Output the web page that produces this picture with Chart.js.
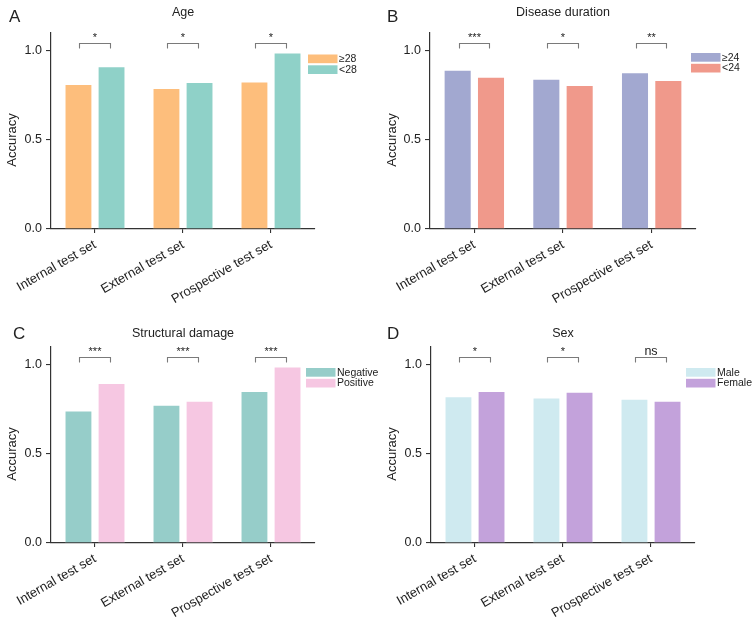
<!DOCTYPE html>
<html>
<head>
<meta charset="utf-8">
<script src="https://cdn.jsdelivr.net/npm/chart.js@4.4.1/dist/chart.umd.min.js"></script>
<style>
  body { margin: 0; background: #fff; }
  #wrap { position: relative; width: 752px; height: 625px; overflow: hidden; }
  #wrap canvas { position: absolute; }
</style>
</head>
<body>
<div id="wrap">
  <canvas id="chartA" width="376" height="312" style="left:0;top:0"></canvas>
  <canvas id="chartB" width="376" height="312" style="left:376px;top:0"></canvas>
  <canvas id="chartC" width="392" height="313" style="left:0;top:312px"></canvas>
  <canvas id="chartD" width="376" height="313" style="left:376px;top:312px"></canvas>
</div>
<script>
// --- DATA ---
const testSets = ['Internal test set', 'External test set', 'Prospective test set'];
const yTicks = [0, 0.5, 1.0];

const ageGroups = ['≥28', '<28'];
const ageOlder = [0.812, 0.790, 0.827];
const ageYounger = [0.912, 0.824, 0.989];
const ageSig = ['*', '*', '*'];

const durationGroups = ['≥24', '<24'];
const durationLong = [0.893, 0.842, 0.878];
const durationShort = [0.854, 0.807, 0.835];
const durationSig = ['***', '*', '**'];

const damageGroups = ['Negative', 'Positive'];
const damageNegative = [0.743, 0.775, 0.852];
const damagePositive = [0.897, 0.797, 0.989];
const damageSig = ['***', '***', '***'];

const sexGroups = ['Male', 'Female'];
const sexMale = [0.822, 0.816, 0.809];
const sexFemale = [0.852, 0.848, 0.797];
const sexSig = ['*', '*', 'ns'];

// --- STYLE ---
const FONT = '"Liberation Sans", Arial, Helvetica, sans-serif';
const AXIS_COLOR = '#333';
const TEXT_COLOR = '#222';
const BRACKET_LEVEL = 1.042;

// layout of each panel inside its own canvas
const panels = [
    { id: 'chartA', letter: 'A', title: 'Age', groups: ageGroups, series: [ageOlder, ageYounger],
      colors: ['#FDBE7C', '#8FD1C8'], sig: ageSig,
      area: { left: 51, right: 315, top: 33, bottom: 229 },
      letterXY: [9, 22], titleY: 16, yTitleX: 12, legendXY: [308, 54.5] },
    { id: 'chartB', letter: 'B', title: 'Disease duration', groups: durationGroups, series: [durationLong, durationShort],
      colors: ['#A2A8D0', '#F0998B'], sig: durationSig,
      area: { left: 54, right: 320, top: 33, bottom: 229 },
      letterXY: [11, 22], titleY: 16, yTitleX: 16, legendXY: [315, 53] },
    { id: 'chartC', letter: 'C', title: 'Structural damage', groups: damageGroups, series: [damageNegative, damagePositive],
      colors: ['#96CDC9', '#F6C7E2'], sig: damageSig,
      area: { left: 51, right: 315, top: 35, bottom: 231 },
      letterXY: [13, 27], titleY: 25, yTitleX: 12, legendXY: [306, 56] },
    { id: 'chartD', letter: 'D', title: 'Sex', groups: sexGroups, series: [sexMale, sexFemale],
      colors: ['#CFEAF0', '#C3A2DB'], sig: sexSig,
      area: { left: 55, right: 319, top: 35, bottom: 231 },
      letterXY: [11, 27], titleY: 25, yTitleX: 16, legendXY: [310, 56] }
];

// --- PLUGIN: letter, title, y title, legend, significance brackets ---
const decorPlugin = {
    id: 'decor',
    afterDatasetsDraw(chart, args, opts) {
        const { ctx, chartArea } = chart;
        const y = chart.scales.y;
        ctx.save();
        ctx.fillStyle = TEXT_COLOR;

        // panel letter
        ctx.font = `17px ${FONT}`;
        ctx.textAlign = 'left';
        ctx.textBaseline = 'alphabetic';
        ctx.fillText(opts.letter, opts.letterXY[0], opts.letterXY[1]);

        // panel title
        ctx.font = `12.5px ${FONT}`;
        ctx.textAlign = 'center';
        ctx.fillText(opts.title, (chartArea.left + chartArea.right) / 2, opts.titleY);

        // y axis title, centred on the 0..1 range
        ctx.save();
        ctx.translate(opts.yTitleX, y.getPixelForValue(0.5));
        ctx.rotate(-Math.PI / 2);
        ctx.font = `13px ${FONT}`;
        ctx.textBaseline = 'middle';
        ctx.fillText('Accuracy', 0, 0);
        ctx.restore();

        // legend
        ctx.font = `10.5px ${FONT}`;
        ctx.textAlign = 'left';
        ctx.textBaseline = 'middle';
        chart.data.datasets.forEach((ds, i) => {
            const bx = opts.legendXY[0];
            const by = opts.legendXY[1] + i * 10.8;
            ctx.fillStyle = ds.backgroundColor;
            ctx.fillRect(bx, by, 29.5, 8.7);
            ctx.fillStyle = TEXT_COLOR;
            ctx.fillText(ds.label, bx + 31, by + 4.8);
        });

        // significance brackets
        const m0 = chart.getDatasetMeta(0);
        const m1 = chart.getDatasetMeta(1);
        const yb = Math.round(y.getPixelForValue(BRACKET_LEVEL)) + 0.5;
        ctx.strokeStyle = '#7a7a7a';
        ctx.lineWidth = 1.1;
        opts.sig.forEach((s, i) => {
            const x0 = Math.round(m0.data[i].x + 1) + 0.5;
            const x1 = Math.round(m1.data[i].x - 2) + 0.5;
            ctx.beginPath();
            ctx.moveTo(x0, yb + 5);
            ctx.lineTo(x0, yb);
            ctx.lineTo(x1, yb);
            ctx.lineTo(x1, yb + 5);
            ctx.stroke();
            ctx.fillStyle = TEXT_COLOR;
            ctx.textAlign = 'center';
            ctx.textBaseline = 'alphabetic';
            ctx.font = s === 'ns' ? `12.5px ${FONT}` : `11px ${FONT}`;
            ctx.fillText(s, (x0 + x1) / 2, yb - 3);
        });
        ctx.restore();
    }
};

// --- RENDER ---
const renderPanel = (p) => {
    const canvas = document.getElementById(p.id);
    const W = canvas.width;
    const H = canvas.height;
    new Chart(canvas.getContext('2d'), {
        type: 'bar',
        data: {
            labels: testSets,
            datasets: p.series.map((values, i) => ({
                label: p.groups[i],
                data: values,
                backgroundColor: p.colors[i],
                borderColor: 'rgba(255,255,255,0.55)',
                borderWidth: 0.8,
                categoryPercentage: 0.752,
                barPercentage: 0.83
            }))
        },
        options: {
            responsive: false,
            animation: false,
            events: [],
            layout: { padding: { left: 0, top: p.area.top, right: W - p.area.right, bottom: 0 } },
            scales: {
                x: {
                    afterFit: scale => { scale.height = H - p.area.bottom; },
                    grid: { offset: false, drawOnChartArea: false, drawTicks: true, tickLength: 4, color: AXIS_COLOR, lineWidth: 1.1 },
                    border: { display: true, color: AXIS_COLOR, width: 1.2 },
                    ticks: { color: TEXT_COLOR, font: { family: FONT, size: 13 }, minRotation: 30, maxRotation: 30, padding: 4 }
                },
                y: {
                    min: 0,
                    max: 1.1,
                    afterFit: scale => { scale.width = p.area.left; },
                    afterBuildTicks: scale => { scale.ticks = yTicks.map(v => ({ value: v })); },
                    grid: { drawOnChartArea: false, drawTicks: true, tickLength: 5, color: AXIS_COLOR, lineWidth: 1.1 },
                    border: { display: true, color: AXIS_COLOR, width: 1.2 },
                    ticks: { color: TEXT_COLOR, font: { family: FONT, size: 12.5 }, padding: 4, callback: v => v.toFixed(1) }
                }
            },
            plugins: {
                legend: { display: false },
                tooltip: { enabled: false },
                decor: p
            }
        },
        plugins: [decorPlugin]
    });
};

panels.forEach(renderPanel);
</script>
</body>
</html>
